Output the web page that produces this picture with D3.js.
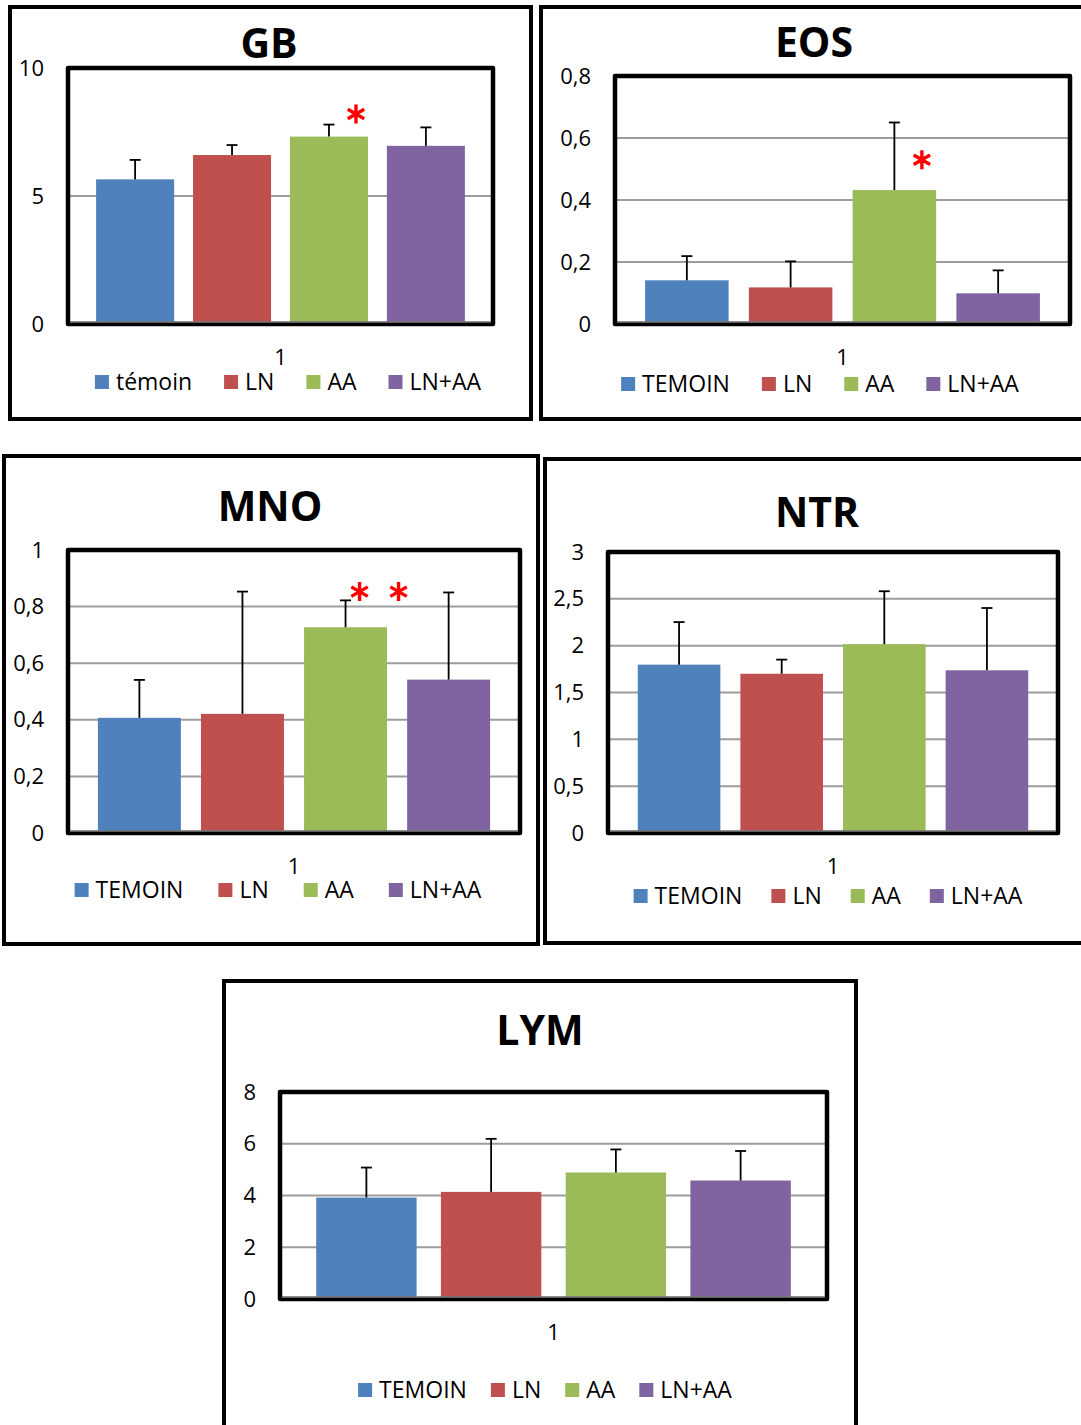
<!DOCTYPE html>
<html>
<head>
<meta charset="utf-8">
<script src="https://cdn.jsdelivr.net/npm/d3@7"></script>
<style>
  body { margin: 0; background: #fff; }
  svg { display: block; }
</style>
</head>
<body>
<div id="chart"></div>
<script>
// series (groups) shared by every panel
var groups = ["TEMOIN", "LN", "AA", "LN+AA"];
var groupsGB = ["témoin", "LN", "AA", "LN+AA"];
var colors = ["#4F81BD", "#C0504D", "#9BBB59", "#8064A2"];
var category = ["1"];

// means and upper error (sd)
var gbMeans = [5.65, 6.6, 7.32, 6.96];
var gbErrors = [0.76, 0.39, 0.47, 0.72];
var gbTicks = [0, 5, 10];

var eosMeans = [0.141, 0.118, 0.432, 0.099];
var eosErrors = [0.078, 0.084, 0.218, 0.074];
var eosTicks = [0, 0.2, 0.4, 0.6, 0.8];

var mnoMeans = [0.407, 0.421, 0.727, 0.542];
var mnoErrors = [0.134, 0.432, 0.095, 0.308];
var mnoTicks = [0, 0.2, 0.4, 0.6, 0.8, 1];

var ntrMeans = [1.797, 1.70, 2.016, 1.737];
var ntrErrors = [0.455, 0.151, 0.565, 0.665];
var ntrTicks = [0, 0.5, 1, 1.5, 2, 2.5, 3];

var lymMeans = [3.92, 4.14, 4.89, 4.58];
var lymErrors = [1.16, 2.05, 0.89, 1.14];
var lymTicks = [0, 2, 4, 6, 8];

// significance stars: [series index, value]
var gbStars = [[2, 8.2]];
var eosStars = [[2, 0.53]];
var mnoStars = [[2, 0.853], [2, 0.853]];

var W = 1081, H = 1425;
var fmt = d3.formatLocale({decimal: ",", thousands: " ", grouping: [3], currency: ["", ""]}).format("~g");

var svg = d3.select("#chart").append("svg")
    .attr("width", W)
    .attr("height", H);

svg.append("rect").attr("width", W).attr("height", H).attr("fill", "#fff");

var panels = [
    {title: "GB", names: groupsGB, means: gbMeans, errs: gbErrors, ticks: gbTicks, stars: gbStars, starDx: [27],
     outer: [10, 7, 531, 419], plot: [68, 68, 493, 324], tx: 269, ty: 57.5, lx: 288, ly: 382, gap: 32},
    {title: "EOS", names: groups, means: eosMeans, errs: eosErrors, ticks: eosTicks, stars: eosStars, starDx: [27.5],
     outer: [541, 7, 1095, 419], plot: [615, 76, 1070, 324], tx: 814, ty: 57, lx: 820, ly: 384, gap: 32},
    {title: "MNO", names: groups, means: mnoMeans, errs: mnoErrors, ticks: mnoTicks, stars: mnoStars, starDx: [14, 53],
     outer: [4, 456, 538, 944], plot: [68, 550, 520, 833], tx: 270, ty: 521, lx: 278, ly: 890, gap: 35},
    {title: "NTR", names: groups, means: ntrMeans, errs: ntrErrors, ticks: ntrTicks, stars: [], starDx: [],
     outer: [545, 459, 1095, 943], plot: [608, 552, 1058, 833], tx: 817, ty: 527, lx: 828, ly: 896, gap: 29},
    {title: "LYM", names: groups, means: lymMeans, errs: lymErrors, ticks: lymTicks, stars: [], starDx: [],
     outer: [224, 981, 856, 1440], plot: [280, 1092, 827, 1299], tx: 540, ty: 1045, lx: 545, ly: 1390, gap: 24}
];

panels.forEach(drawPanel);

function drawPanel(p) {
    var g = svg.append("g");
    var o = p.outer, r = p.plot;

    // outer frame of the panel
    g.append("rect")
        .attr("x", o[0]).attr("y", o[1])
        .attr("width", o[2] - o[0]).attr("height", o[3] - o[1])
        .attr("fill", "#fff")
        .attr("stroke", "#000")
        .attr("stroke-width", 4);

    g.append("text")
        .attr("x", p.tx).attr("y", p.ty)
        .attr("text-anchor", "middle")
        .style("font", "bold 41px 'Open Sans', sans-serif")
        .text(p.title);

    var y = d3.scaleLinear()
        .domain([0, d3.max(p.ticks)])
        .range([r[3], r[1]]);

    var xCat = d3.scaleBand().domain(category).range([r[0], r[2]]);
    var x = d3.scaleBand()
        .domain(d3.range(p.means.length))
        .range([xCat(category[0]), xCat(category[0]) + xCat.bandwidth()])
        .paddingInner(0.195)
        .paddingOuter(0.29);

    // gridlines
    g.selectAll(".grid").data(p.ticks).join("line")
        .attr("x1", r[0]).attr("x2", r[2])
        .attr("y1", function (d) { return y(d); })
        .attr("y2", function (d) { return y(d); })
        .attr("stroke", "#9d9d9d")
        .attr("stroke-width", 2);

    // bars
    g.selectAll(".bar").data(p.means).join("rect")
        .attr("x", function (d, i) { return x(i); })
        .attr("width", x.bandwidth())
        .attr("y", function (d) { return y(d); })
        .attr("height", function (d) { return y(0) - y(d); })
        .attr("fill", function (d, i) { return colors[i]; });

    // upper error bars
    var eb = g.selectAll(".err").data(p.means).join("g")
        .attr("transform", function (d, i) { return "translate(" + (x(i) + x.bandwidth() / 2) + ",0)"; });
    eb.append("line")
        .attr("y1", function (d) { return y(d); })
        .attr("y2", function (d, i) { return y(d + p.errs[i]); })
        .attr("stroke", "#000").attr("stroke-width", 1.8);
    eb.append("line")
        .attr("x1", -5.5).attr("x2", 5.5)
        .attr("y1", function (d, i) { return y(d + p.errs[i]); })
        .attr("y2", function (d, i) { return y(d + p.errs[i]); })
        .attr("stroke", "#000").attr("stroke-width", 1.8);

    // plot area frame
    g.append("rect")
        .attr("x", r[0]).attr("y", r[1])
        .attr("width", r[2] - r[0]).attr("height", r[3] - r[1])
        .attr("fill", "none")
        .attr("stroke", "#000")
        .attr("stroke-width", 4.5)
        .attr("stroke-linejoin", "round");
    g.append("line")
        .attr("x1", r[0] + 2).attr("x2", r[2] - 2)
        .attr("y1", y(0) - 2).attr("y2", y(0) - 2)
        .attr("stroke", "#7f7f7f").attr("stroke-width", 1.5);

    // axes
    var ya = g.append("g")
        .attr("transform", "translate(" + r[0] + ",0)")
        .call(d3.axisLeft(y).tickValues(p.ticks).tickSize(0).tickPadding(24).tickFormat(fmt));
    ya.select(".domain").remove();
    ya.selectAll("text").style("font", "22px 'Open Sans', sans-serif").attr("fill", "#000");

    var xa = g.append("g")
        .attr("transform", "translate(0," + r[3] + ")")
        .call(d3.axisBottom(xCat).tickSize(0).tickPadding(25));
    xa.select(".domain").remove();
    xa.selectAll("text").style("font", "22px 'Open Sans', sans-serif").attr("fill", "#000");

    // stars
    var star = d3.symbol().type(d3.symbolAsterisk).size(255);
    g.selectAll(".star").data(p.stars).join("path")
        .attr("d", star)
        .attr("transform", function (d, i) {
            return "translate(" + (x(d[0]) + x.bandwidth() / 2 + p.starDx[i]) + "," + y(d[1]) + ")";
        })
        .attr("fill", "none")
        .attr("stroke", "#ff0000")
        .attr("stroke-width", 3.4);

    // legend
    var lg = g.append("g");
    var items = lg.selectAll(".item").data(p.names).join("g");
    items.append("rect")
        .attr("width", 14).attr("height", 14)
        .attr("y", p.ly - 7)
        .attr("fill", function (d, i) { return colors[i]; });
    items.append("text")
        .attr("x", 21)
        .attr("y", p.ly)
        .attr("dy", "0.36em")
        .style("font", "23px 'Open Sans', sans-serif")
        .text(function (d) { return d; });
    var cx = 0;
    items.each(function () {
        var it = d3.select(this);
        it.attr("transform", "translate(" + cx + ",0)");
        cx += 21 + it.select("text").node().getComputedTextLength() + p.gap;
    });
    var total = cx - p.gap;
    lg.attr("transform", "translate(" + (p.lx - total / 2) + ",0)");
}
</script>
</body>
</html>
